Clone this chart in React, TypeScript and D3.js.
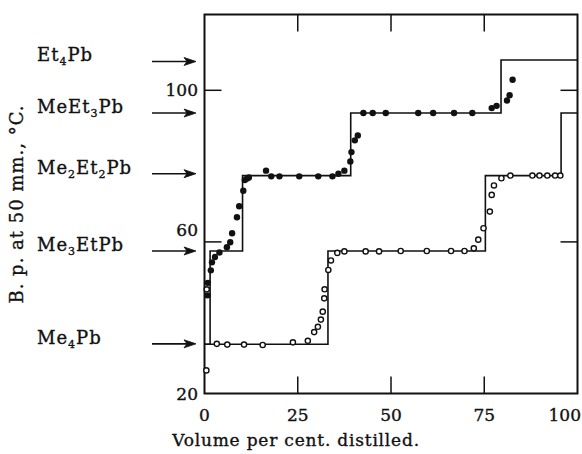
import React from "react";
import * as d3 from "d3";

// ---- data ----
const compounds = [
  { base: ["Et", "4", "Pb"] },
  { base: ["MeEt", "3", "Pb"] },
  { base: ["Me", "2", "Et", "2", "Pb"] },
  { base: ["Me", "3", "EtPb"] },
  { base: ["Me", "4", "Pb"] },
];
const compoundBp = [107.6, 94.0, 78.0, 57.6, 33.1];

const xTicks = [0, 25, 50, 75, 100];
const yTicks = [20, 60, 100];

// step lines: [volume %, b.p.] (curveStepAfter)
const filledStep: [number, number][] = [
  [0, 33], [1.5, 57.6], [10.2, 77.5], [39.2, 94], [79.5, 108], [100, 108],
];
const openStep: [number, number][] = [
  [0, 33], [33.1, 57.6], [75.3, 77.5], [95.6, 94], [100, 94],
];

const filledPoints: [number, number][] = [
  [0.8, 45.9], [0.9, 49.2], [1.7, 52.5], [2.0, 54.6], [2.8, 56.0], [4.0, 57.2],
  [6.0, 58.6], [6.9, 59.9], [7.4, 62.3], [8.7, 66.5], [9.3, 69.4], [10.4, 73.5],
  [10.8, 76.3], [11.4, 76.7], [11.9, 77.0], [16.5, 78.8], [17.9, 77.3], [20.1, 77.3],
  [25.4, 77.3], [30.5, 77.3], [34.3, 77.3], [35.9, 78.0], [37.5, 78.8], [39.1, 81.2],
  [39.4, 83.7], [40.3, 86.8], [41.1, 88.1], [42.6, 94.0], [45.1, 94.0], [48.6, 94.0],
  [57.3, 94.0], [61.3, 94.0], [66.9, 94.0], [71.8, 94.0], [77.0, 95.3], [78.3, 95.9],
  [81.1, 97.3], [81.8, 98.7], [82.6, 102.8],
];

const openPoints: [number, number][] = [
  [0.5, 26.1], [0.6, 47.5], [3.3, 33.1], [6.1, 32.9], [10.6, 32.9], [15.6, 32.8],
  [23.7, 33.5], [27.7, 33.9], [29.4, 36.2], [30.4, 37.6], [31.2, 39.5], [31.7, 41.6],
  [32.1, 45.1], [32.2, 47.5], [33.2, 52.6], [33.9, 55.1], [35.6, 57.1], [37.5, 57.5],
  [43.2, 57.5], [46.8, 57.5], [52.6, 57.6], [59.6, 57.6], [66.1, 57.6], [69.7, 57.6],
  [72.2, 58.3], [73.4, 60.6], [74.8, 63.6], [76.5, 68.0], [77.0, 72.4], [77.6, 74.9],
  [79.6, 76.8], [82.0, 77.5], [87.9, 77.5], [89.8, 77.5], [91.9, 77.5], [94.0, 77.5],
  [95.4, 77.5],
];

const xTitle = "Volume per cent. distilled.";
const yTitle = "B. p. at 50 mm., °C.";

// ---- layout ----
const W = 582;
const H = 454;
const FONT = "'DejaVu Serif', serif";
const INK = "#111";

export default function App() {
  const x = d3.scaleLinear().domain([0, 100]).range([204.5, 577.5]);
  const y = d3.scaleLinear().domain([20, 120]).range([393.5, 14.5]);

  const step = d3
    .line<[number, number]>()
    .x((d) => x(d[0]))
    .y((d) => y(d[1]))
    .curve(d3.curveStepAfter);

  const left = x(0);
  const right = x(100);
  const top = y(120);
  const bottom = y(20);
  const tickLen = 17;
  const textStroke = { stroke: INK, strokeWidth: 0.35 };

  return (
    <svg
      width={W}
      height={H}
      style={{ position: "absolute", left: 0, top: 0, background: "#fff" }}
      fontFamily={FONT}
    >
      <rect x={0} y={0} width={W} height={H} fill="#fff" />

      {/* step lines */}
      <path d={step(filledStep) || ""} fill="none" stroke={INK} strokeWidth={1.6} />
      <path d={step(openStep) || ""} fill="none" stroke={INK} strokeWidth={1.6} />

      {/* frame */}
      <rect
        x={left}
        y={top}
        width={right - left}
        height={bottom - top}
        fill="none"
        stroke={INK}
        strokeWidth={2}
      />

      {/* x ticks, inward at bottom and top */}
      {xTicks
        .filter((t) => t > 0 && t < 100)
        .map((t) => (
          <g key={"xt" + t}>
            <line x1={x(t)} x2={x(t)} y1={bottom} y2={bottom - tickLen} stroke={INK} strokeWidth={1.5} />
            <line x1={x(t)} x2={x(t)} y1={top} y2={top + tickLen} stroke={INK} strokeWidth={1.5} />
          </g>
        ))}
      {/* y ticks, inward left and right */}
      {yTicks
        .filter((t) => t > 20)
        .map((t) => (
          <g key={"yt" + t}>
            <line x1={left} x2={left + tickLen} y1={y(t)} y2={y(t)} stroke={INK} strokeWidth={1.5} />
            <line x1={right} x2={right - tickLen} y1={y(t)} y2={y(t)} stroke={INK} strokeWidth={1.5} />
          </g>
        ))}

      {/* x tick labels */}
      {xTicks.map((t) => (
        <text
          key={"xl" + t}
          x={t === 100 ? W - 1 : x(t)}
          y={421}
          textAnchor={t === 100 ? "end" : "middle"}
          fontSize={17}
          fill={INK}
          {...textStroke}
        >
          {t}
        </text>
      ))}
      {/* y tick labels */}
      {yTicks.map((t) => (
        <text
          key={"yl" + t}
          x={198}
          y={y(t) + (t === 60 ? -12 : 0)}
          dy="0.36em"
          textAnchor="end"
          fontSize={17}
          fill={INK}
          {...textStroke}
        >
          {t}
        </text>
      ))}

      {/* axis titles */}
      <text x={296} y={446} textAnchor="middle" fontSize={17} letterSpacing={0.8} fill={INK} {...textStroke}>
        {xTitle}
      </text>
      <text
        transform={`translate(23, 204) rotate(-90)`}
        textAnchor="middle"
        fontSize={18}
        letterSpacing={1.0}
        fill={INK}
        {...textStroke}
      >
        {yTitle}
      </text>

      {/* compound labels and arrows */}
      {compounds.map((c, i) => {
        const yy = y(compoundBp[i]);
        return (
          <g key={"c" + i}>
            <text x={37} y={yy} dy="0.36em" fontSize={18} letterSpacing={1.0} fill={INK} {...textStroke}>
              {c.base.map((s, j) =>
                /^\d$/.test(s) ? (
                  <tspan key={j} fontSize={11} dy={4}>
                    {s}
                  </tspan>
                ) : (
                  <tspan key={j} dy={j > 0 && /^\d$/.test(c.base[j - 1]) ? -4 : 0}>
                    {s}
                  </tspan>
                )
              )}
            </text>
            <line x1={152} x2={192} y1={yy} y2={yy} stroke={INK} strokeWidth={1.6} />
            <path
              d={`M${184},${yy - 4} L${196},${yy} L${184},${yy + 4} L${187},${yy} Z`}
              fill={INK}
              stroke={INK}
              strokeWidth={0.8}
            />
          </g>
        );
      })}

      {/* data points */}
      {openPoints.map((p, i) => (
        <circle key={"o" + i} cx={x(p[0])} cy={y(p[1])} r={2.6} fill="#fff" stroke={INK} strokeWidth={1.4} />
      ))}
      {filledPoints.map((p, i) => (
        <circle key={"f" + i} cx={x(p[0])} cy={y(p[1])} r={3.2} fill={INK} />
      ))}
    </svg>
  );
}
